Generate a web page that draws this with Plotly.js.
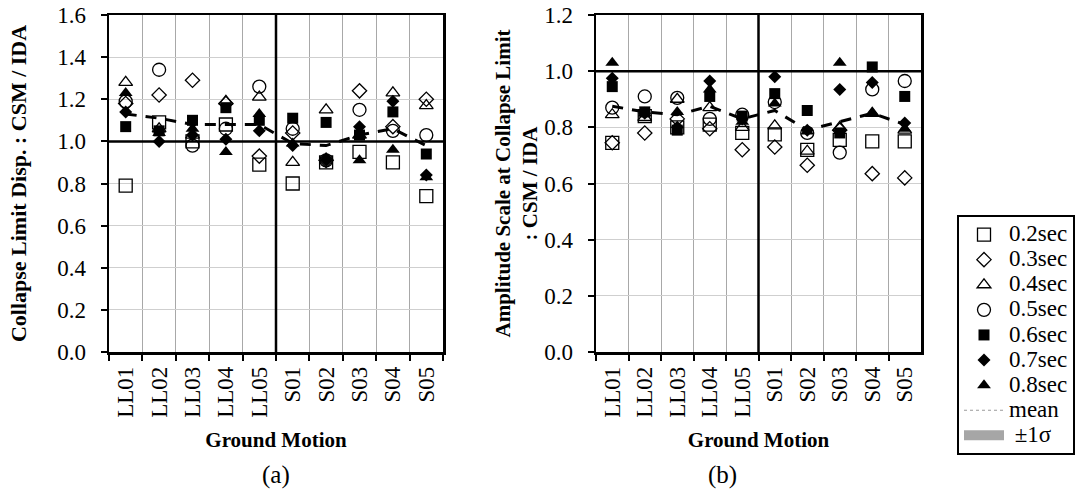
<!DOCTYPE html>
<html>
<head>
<meta charset="utf-8">
<script src="https://cdn.plot.ly/plotly-3.0.1.min.js"></script>
<style>
  html, body { margin: 0; padding: 0; background: #fff; }
  #chart { width: 1077px; height: 497px; }
</style>
</head>
<body>
<div id="chart"></div>
<script>
// Ground motion records
const motions = ['LL01', 'LL02', 'LL03', 'LL04', 'LL05', 'S01', 'S02', 'S03', 'S04', 'S05'];

// (a) Collapse limit displacement ratio CSM / IDA, one array per period
const dispT02 = [0.79, 1.09, 1.00, 1.08, 0.89, 0.80, 0.90, 0.95, 0.90, 0.74];
const dispT03 = [1.18, 1.22, 1.29, 1.18, 0.93, 1.04, 0.91, 1.24, 1.07, 1.20];
const dispT04 = [1.28, 1.06, 1.03, 1.19, 1.21, 0.90, 1.15, 1.03, 1.23, 1.17];
const dispT05 = [1.19, 1.34, 0.98, 1.06, 1.26, 1.06, 0.91, 1.15, 1.05, 1.03];
const dispT06 = [1.07, 1.05, 1.10, 1.16, 1.10, 1.11, 1.09, 1.03, 1.14, 0.94];
const dispT07 = [1.14, 1.00, 1.03, 1.01, 1.05, 0.98, 0.91, 1.07, 1.19, 0.84];
const dispT08 = [1.23, 1.04, 1.06, 0.95, 1.13, 0.99, 0.92, 0.91, 0.96, 0.83];
const dispMean = [1.13, 1.11, 1.08, 1.08, 1.08, 0.99, 0.98, 1.03, 1.06, 0.98];

// (b) Amplitude scale at collapse limit CSM / IDA
const ampT02 = [0.745, 0.84, 0.80, 0.81, 0.78, 0.775, 0.72, 0.755, 0.75, 0.75];
const ampT03 = [0.745, 0.78, 0.83, 0.795, 0.72, 0.73, 0.665, 0.79, 0.635, 0.62];
const ampT04 = [0.845, 0.835, 0.90, 0.87, 0.80, 0.805, 0.715, 0.80, 0.85, 0.79];
const ampT05 = [0.87, 0.91, 0.905, 0.83, 0.845, 0.89, 0.78, 0.71, 0.935, 0.965];
const ampT06 = [0.945, 0.855, 0.79, 0.91, 0.84, 0.92, 0.86, 0.78, 1.015, 0.91];
const ampT07 = [0.975, 0.85, 0.80, 0.965, 0.83, 0.98, 0.79, 0.935, 0.96, 0.815];
const ampT08 = [1.03, 0.85, 0.855, 0.935, 0.82, 0.885, 0.785, 1.03, 0.85, 0.795];
const ampMean = [0.875, 0.855, 0.845, 0.875, 0.83, 0.86, 0.79, 0.82, 0.85, 0.81];

const periodNames = ['0.2sec', '0.3sec', '0.4sec', '0.5sec', '0.6sec', '0.7sec', '0.8sec'];

const FONT = 'Liberation Serif, Times New Roman, serif';
const W = 1077, H = 497;

// legend labels are set a little larger than the row height the legend reserves
const legendLabel = (s) => '<span style="font-size:23px">' + s + '</span>';

// marker style per period
const markerStyles = [
  { symbol: 'square-open',      size: 13, color: 'black', line: { width: 1.3, color: 'black' } },
  { symbol: 'diamond-open',     size: 11, color: 'black', line: { width: 1.3, color: 'black' } },
  { symbol: 'triangle-up-open', size: 12, color: 'black', line: { width: 1.3, color: 'black' } },
  { symbol: 'circle-open',      size: 13, color: 'black', line: { width: 1.3, color: 'black' } },
  { symbol: 'square',           size: 11, color: 'black', line: { width: 0 } },
  { symbol: 'diamond',          size: 10, color: 'black', line: { width: 0 } },
  { symbol: 'triangle-up',      size: 12, color: 'black', line: { width: 0 } }
];

const dispSeries = [dispT02, dispT03, dispT04, dispT05, dispT06, dispT07, dispT08];
const ampSeries = [ampT02, ampT03, ampT04, ampT05, ampT06, ampT07, ampT08];

const traces = [];

// dashed mean lines, drawn first so markers sit on top
traces.push({
  x: motions, y: dispMean, xaxis: 'x', yaxis: 'y', type: 'scatter', mode: 'lines',
  line: { color: 'black', width: 3, dash: '11px,9px' }, showlegend: false, hoverinfo: 'skip'
});
traces.push({
  x: motions, y: ampMean, xaxis: 'x2', yaxis: 'y2', type: 'scatter', mode: 'lines',
  line: { color: 'black', width: 3, dash: '11px,9px' }, showlegend: false, hoverinfo: 'skip'
});

periodNames.forEach((name, i) => {
  traces.push({
    x: motions, y: dispSeries[i], xaxis: 'x', yaxis: 'y', type: 'scatter', mode: 'markers',
    name: legendLabel(name), legendgroup: name, marker: markerStyles[i], showlegend: true
  });
});
periodNames.forEach((name, i) => {
  traces.push({
    x: motions, y: ampSeries[i], xaxis: 'x2', yaxis: 'y2', type: 'scatter', mode: 'markers',
    name: legendLabel(name), legendgroup: name, marker: markerStyles[i], showlegend: false
  });
});

// legend entries for the mean and the one-sigma band
traces.push({
  x: [null], y: [null], xaxis: 'x', yaxis: 'y', type: 'scatter', mode: 'lines', name: legendLabel('mean'),
  line: { color: '#9a9a9a', width: 1, dash: 'dot' }, showlegend: true
});
traces.push({
  x: [null], y: [null], xaxis: 'x', yaxis: 'y', type: 'scatter', mode: 'lines', name: legendLabel(' ±1σ'),
  line: { color: '#a6a6a6', width: 16 }, showlegend: true
});

const xBase = {
  type: 'category', categoryorder: 'array', categoryarray: motions,
  range: [-0.5, 9.5], tickson: 'boundaries', ticks: 'outside', ticklen: 6, tickwidth: 2,
  tickcolor: 'black', tickangle: -90, showgrid: true, gridcolor: '#a8a8a8', gridwidth: 1,
  showline: true, linecolor: 'black', linewidth: 2.5, mirror: true, zeroline: false,
  tickfont: { family: FONT, size: 23, color: 'black' }, ticklabelstandoff: 3,
  automargin: false, fixedrange: true
};
const yBase = {
  dtick: 0.2, tick0: 0, tickformat: '.1f', ticks: 'outside', ticklen: 6, tickwidth: 2,
  tickcolor: 'black', showgrid: true, gridcolor: '#cfcfcf', gridwidth: 1,
  showline: true, linecolor: 'black', linewidth: 2.5, mirror: true, zeroline: false,
  tickfont: { family: FONT, size: 23, color: 'black' }, ticklabelstandoff: 10,
  automargin: false, fixedrange: true
};

const yDomain = [145 / H, 482 / H];

const layout = {
  width: W, height: H,
  margin: { l: 0, r: 0, t: 0, b: 0, autoexpand: false },
  paper_bgcolor: 'white', plot_bgcolor: 'white',
  font: { family: FONT, size: 20, color: 'black' },
  showlegend: true,
  xaxis: Object.assign({}, xBase, {
    domain: [109 / W, 443 / W], anchor: 'y',
    title: { text: '<b>Ground Motion</b>', font: { family: FONT, size: 21, color: 'black' }, standoff: 16 }
  }),
  yaxis: Object.assign({}, yBase, {
    domain: yDomain, anchor: 'x', range: [0, 1.6],
    title: { text: '<b>Collapse Limit Disp. : CSM / IDA</b>', font: { family: FONT, size: 22, color: 'black' }, standoff: 25 }
  }),
  xaxis2: Object.assign({}, xBase, {
    domain: [596 / W, 921 / W], anchor: 'y2',
    title: { text: '<b>Ground Motion</b>', font: { family: FONT, size: 21, color: 'black' }, standoff: 16 }
  }),
  yaxis2: Object.assign({}, yBase, {
    domain: yDomain, anchor: 'x2', range: [0, 1.2],
    title: { text: '<b>Amplitude Scale at Collapse Limit<br>: CSM / IDA</b>', font: { family: FONT, size: 21, color: 'black' }, standoff: 1 }
  }),
  legend: {
    x: 957 / W, xanchor: 'left', y: 42 / H, yanchor: 'bottom',
    bgcolor: 'white', bordercolor: 'black', borderwidth: 2, itemwidth: 40,
    font: { family: FONT, size: 17, color: 'black' }, tracegroupgap: 0
  },
  shapes: [
    // reference ratio 1.0 and the long-period / short-period divider
    { type: 'line', xref: 'x domain', yref: 'y', x0: 0, x1: 1, y0: 1, y1: 1, line: { color: 'black', width: 2.5 }, layer: 'above' },
    { type: 'line', xref: 'x', yref: 'y domain', x0: 4.5, x1: 4.5, y0: 0, y1: 1, line: { color: 'black', width: 2.5 }, layer: 'above' },
    { type: 'line', xref: 'x2 domain', yref: 'y2', x0: 0, x1: 1, y0: 1, y1: 1, line: { color: 'black', width: 2.5 }, layer: 'above' },
    { type: 'line', xref: 'x2', yref: 'y2 domain', x0: 4.5, x1: 4.5, y0: 0, y1: 1, line: { color: 'black', width: 2.5 }, layer: 'above' }
  ],
  annotations: [
    { text: '(a)', xref: 'paper', yref: 'paper', x: 276 / W, y: 1 - 475 / H, xanchor: 'center', yanchor: 'middle', showarrow: false, font: { family: FONT, size: 25, color: 'black' } },
    { text: '(b)', xref: 'paper', yref: 'paper', x: 722 / W, y: 1 - 475 / H, xanchor: 'center', yanchor: 'middle', showarrow: false, font: { family: FONT, size: 25, color: 'black' } }
  ]
};

Plotly.newPlot('chart', traces, layout, { displayModeBar: false, staticPlot: true });
</script>
</body>
</html>
